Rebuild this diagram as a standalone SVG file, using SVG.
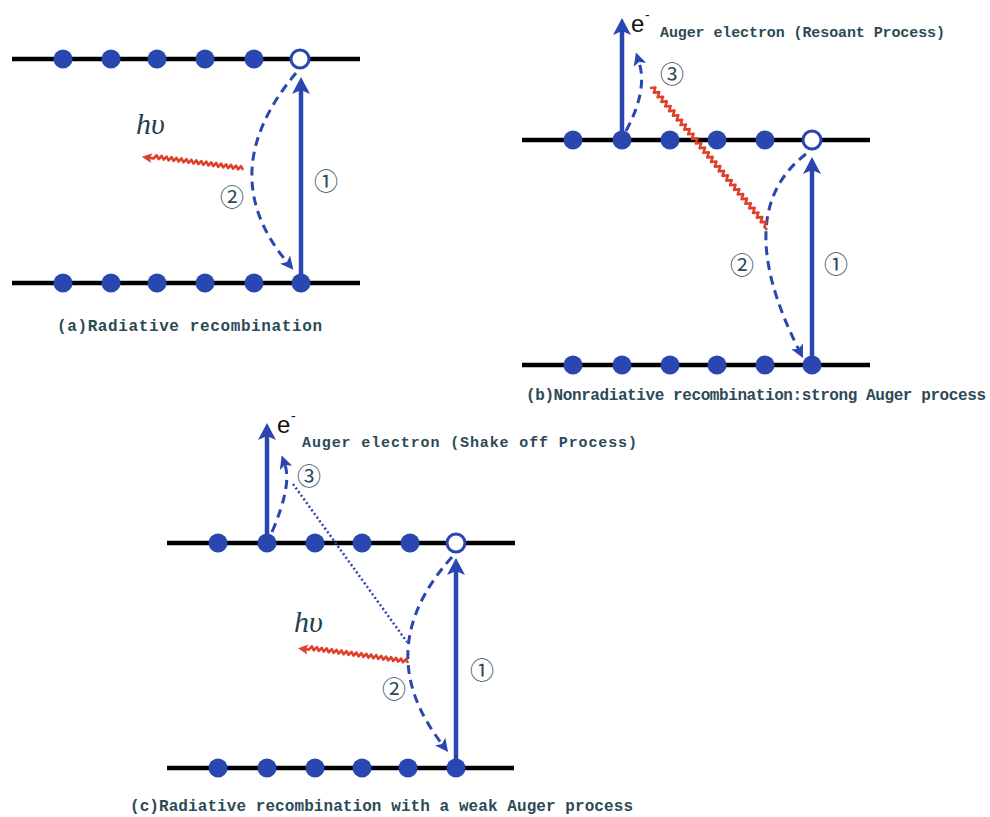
<svg xmlns="http://www.w3.org/2000/svg" width="990" height="817" viewBox="0 0 990 817">
<style>
.lvl{stroke:#000;stroke-width:4.5;fill:none}
.dot{fill:#2a46b0}
.hole{fill:#fff;stroke:#2a46b0;stroke-width:3}
.solid{stroke:#2a46b0;stroke-width:4.5;fill:none;marker-end:url(#bigHead)}
.dash{stroke:#2a46b0;stroke-width:3;fill:none;stroke-dasharray:9 6;marker-end:url(#smallHead)}
.dots{stroke:#2a46b0;stroke-width:2.5;fill:none;stroke-dasharray:2 2.5}
.wave{stroke:#e0402a;stroke-width:2.6;fill:none;stroke-linejoin:round}
.cap{font-family:"Liberation Mono",monospace;font-size:16px;font-weight:bold;fill:#2c4a55}
.aug{font-family:"Liberation Mono",monospace;font-size:15px;font-weight:bold;fill:#2c4a55}
.num{font-family:"Noto Sans CJK SC","DejaVu Sans",sans-serif;font-size:24px;fill:#2f4d58;text-anchor:middle;dominant-baseline:central}
.hv{font-family:"Liberation Serif",serif;font-style:italic;font-size:30px;fill:#1f3f4f}
.e{font-family:"Liberation Sans",sans-serif;font-size:24px;fill:#111}
</style>
<defs>
<marker id="bigHead" markerUnits="userSpaceOnUse" markerWidth="20" markerHeight="20" refX="4" refY="0" viewBox="0 -10 20 20" orient="auto" overflow="visible">
<path d="M17,0 L0,-9 L4,0 L0,9 Z" fill="#2a46b0"/>
</marker>
<marker id="smallHead" markerUnits="userSpaceOnUse" markerWidth="16" markerHeight="16" refX="3" refY="0" viewBox="0 -8 16 16" orient="auto" overflow="visible">
<path d="M13,0 L0,-6.5 L3,0 L0,6.5 Z" fill="#2a46b0"/>
</marker>
<marker id="redHead" markerUnits="userSpaceOnUse" markerWidth="12" markerHeight="12" refX="2" refY="0" viewBox="0 -6 12 12" orient="auto" overflow="visible">
<path d="M10,0 L0,-5 L2,0 L0,5 Z" fill="#e0402a"/>
</marker>
</defs>
<rect width="990" height="817" fill="#fff"/>

<!-- Panel (a) -->
<g id="a-conduction">
<line class="lvl" x1="12" y1="59" x2="360" y2="59"/>
<circle class="dot" cx="63" cy="59" r="9.5"/><circle class="dot" cx="111" cy="59" r="9.5"/><circle class="dot" cx="157" cy="59" r="9.5"/><circle class="dot" cx="205" cy="59" r="9.5"/><circle class="dot" cx="254" cy="59" r="9.5"/>
<circle class="hole" cx="300" cy="59" r="9"/>
</g>
<g id="a-valence">
<line class="lvl" x1="12" y1="283" x2="360" y2="283"/>
<circle class="dot" cx="63" cy="283" r="9.5"/><circle class="dot" cx="111" cy="283" r="9.5"/><circle class="dot" cx="157" cy="283" r="9.5"/><circle class="dot" cx="205" cy="283" r="9.5"/><circle class="dot" cx="254" cy="283" r="9.5"/><circle class="dot" cx="301" cy="283" r="9.5"/>
</g>
<g id="a-labels">
<text class="num" x="326" y="179">①</text>
<text class="num" x="232" y="195">②</text>
<text class="hv" x="136" y="134">hυ</text>
<text class="cap" x="57" y="331" textLength="265">(a)Radiative recombination</text>
</g>

<!-- Panel (b) -->
<g id="b-conduction">
<line class="lvl" x1="522" y1="140" x2="870" y2="140"/>
<circle class="dot" cx="573" cy="140" r="9.5"/><circle class="dot" cx="622" cy="140" r="9.5"/><circle class="dot" cx="670" cy="140" r="9.5"/><circle class="dot" cx="717" cy="140" r="9.5"/><circle class="dot" cx="765" cy="140" r="9.5"/>
<circle class="hole" cx="812" cy="140" r="9"/>
</g>
<g id="b-valence">
<line class="lvl" x1="522" y1="365" x2="870" y2="365"/>
<circle class="dot" cx="573" cy="365" r="9.5"/><circle class="dot" cx="622" cy="365" r="9.5"/><circle class="dot" cx="670" cy="365" r="9.5"/><circle class="dot" cx="717" cy="365" r="9.5"/><circle class="dot" cx="765" cy="365" r="9.5"/><circle class="dot" cx="812" cy="365" r="9.5"/>
</g>
<g id="b-labels">
<text class="e" x="631" y="32">e</text><text class="e" x="645" y="20" style="font-size:14px">-</text>
<text class="aug" x="660" y="37" textLength="285">Auger electron (Resoant Process)</text>
<text class="num" x="672" y="72">③</text>
<text class="num" x="836" y="262">①</text>
<text class="num" x="742" y="263">②</text>
<text class="cap" x="526" y="400" textLength="460">(b)Nonradiative recombination:strong Auger process</text>
</g>

<!-- Panel (c) -->
<g id="c-conduction">
<line class="lvl" x1="167" y1="543" x2="515" y2="543"/>
<circle class="dot" cx="218" cy="543" r="9.5"/><circle class="dot" cx="267" cy="543" r="9.5"/><circle class="dot" cx="315" cy="543" r="9.5"/><circle class="dot" cx="362" cy="543" r="9.5"/><circle class="dot" cx="410" cy="543" r="9.5"/>
<circle class="hole" cx="456" cy="543" r="9"/>
</g>
<g id="c-valence">
<line class="lvl" x1="167" y1="768" x2="514" y2="768"/>
<circle class="dot" cx="218" cy="768" r="9.5"/><circle class="dot" cx="267" cy="768" r="9.5"/><circle class="dot" cx="315" cy="768" r="9.5"/><circle class="dot" cx="362" cy="768" r="9.5"/><circle class="dot" cx="408" cy="768" r="9.5"/><circle class="dot" cx="456" cy="768" r="9.5"/>
</g>
<g id="c-labels">
<text class="e" x="277" y="433">e</text><text class="e" x="291" y="421" style="font-size:14px">-</text>
<text class="aug" x="302" y="447" textLength="335">Auger electron (Shake off Process)</text>
<text class="num" x="309" y="474">③</text>
<text class="num" x="482" y="668">①</text>
<text class="num" x="394" y="687">②</text>
<text class="hv" x="294" y="632">hυ</text>
<text class="cap" x="130" y="811" textLength="503">(c)Radiative recombination with a weak Auger process</text>
</g>

<!-- Connectors -->
<g id="connectors">
<!-- a -->
<line class="solid" x1="301" y1="278" x2="301" y2="90"/>
<path class="dash" d="M296,73 Q212.5,172.5 287,262"/>
<path class="wave" transform="translate(243,170) rotate(7.4)" style="marker-end:url(#redHead)" d="M0,0 l-2.5,-3.5 -2.5,3.5 -2.5,-3.5 -2.5,3.5 -2.5,-3.5 -2.5,3.5 -2.5,-3.5 -2.5,3.5 -2.5,-3.5 -2.5,3.5 -2.5,-3.5 -2.5,3.5 -2.5,-3.5 -2.5,3.5 -2.5,-3.5 -2.5,3.5 -2.5,-3.5 -2.5,3.5 -2.5,-3.5 -2.5,3.5 -2.5,-3.5 -2.5,3.5 -2.5,-3.5 -2.5,3.5 -2.5,-3.5 -2.5,3.5 -2.5,-3.5 -2.5,3.5 -2.5,-3.5 -2.5,3.5 -2.5,-3.5 -2.5,3.5 -2.5,-3.5 -2.5,3.5 -2.5,-3.5 -2.5,3.5 h-4"/>
<!-- b -->
<line class="solid" x1="812" y1="360" x2="812" y2="170"/>
<path class="dash" d="M806,154 Q729.75,212.5 798.5,349"/>
<line class="solid" x1="622" y1="138" x2="622" y2="31"/>
<path class="dash" d="M626,131 Q648,90 639,62"/>
<path class="wave" transform="translate(650,88) rotate(50.5)" d="M0,0 l3,-4.5 3,4.5 3,-4.5 3,4.5 3,-4.5 3,4.5 3,-4.5 3,4.5 3,-4.5 3,4.5 3,-4.5 3,4.5 3,-4.5 3,4.5 3,-4.5 3,4.5 3,-4.5 3,4.5 3,-4.5 3,4.5 3,-4.5 3,4.5 3,-4.5 3,4.5 3,-4.5 3,4.5 3,-4.5 3,4.5 3,-4.5 3,4.5 3,-4.5 3,4.5 3,-4.5 3,4.5 3,-4.5 3,4.5 3,-4.5 3,4.5 3,-4.5 3,4.5 3,-4.5 3,4.5 3,-4.5 3,4.5 3,-4.5 3,4.5 3,-4.5 3,4.5 3,-4.5 3,4.5 3,-4.5 3,4.5 3,-4.5 3,4.5 3,-4.5 3,4.5 3,-4.5 3,4.5 3,-4.5 3,4.5 h4"/>
<!-- c -->
<line class="solid" x1="456" y1="763" x2="456" y2="571"/>
<path class="dash" d="M452,557 Q369,649.5 442,744"/>
<line class="solid" x1="267" y1="541" x2="267" y2="436"/>
<path class="dash" d="M272,532 Q292,485 285,465"/>
<line class="dots" x1="293" y1="484" x2="407" y2="642"/>
<path class="wave" transform="translate(408,663) rotate(7.7)" style="marker-end:url(#redHead)" d="M0,0 l-2.5,-3.5 -2.5,3.5 -2.5,-3.5 -2.5,3.5 -2.5,-3.5 -2.5,3.5 -2.5,-3.5 -2.5,3.5 -2.5,-3.5 -2.5,3.5 -2.5,-3.5 -2.5,3.5 -2.5,-3.5 -2.5,3.5 -2.5,-3.5 -2.5,3.5 -2.5,-3.5 -2.5,3.5 -2.5,-3.5 -2.5,3.5 -2.5,-3.5 -2.5,3.5 -2.5,-3.5 -2.5,3.5 -2.5,-3.5 -2.5,3.5 -2.5,-3.5 -2.5,3.5 -2.5,-3.5 -2.5,3.5 -2.5,-3.5 -2.5,3.5 -2.5,-3.5 -2.5,3.5 -2.5,-3.5 -2.5,3.5 -2.5,-3.5 -2.5,3.5 -2.5,-3.5 -2.5,3.5 h-3"/>
</g>
</svg>
